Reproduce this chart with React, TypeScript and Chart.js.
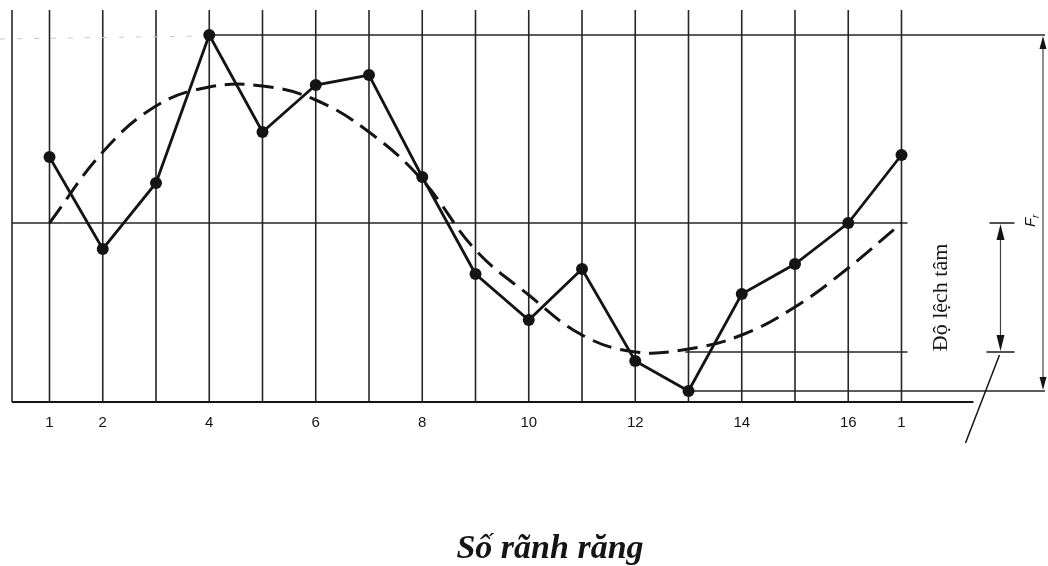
import React, { useEffect, useRef } from "react";
import { Chart, registerables } from "chart.js";

Chart.register(...registerables);

// ---- data ----
const toothNumbers = [1, 2, 3, 4, 5, 6, 7, 8, 9, 10, 11, 12, 13, 14, 15, 16, 17];
const tickLabels = ["1", "2", "", "4", "", "6", "", "8", "", "10", "", "12", "", "14", "", "16", "1"];
const measuredRunout = [6.6, -2.6, 4.0, 18.8, 9.1, 13.8, 14.8, 4.6, -5.1, -9.7, -4.6, -13.8, -16.8, -7.1, -4.1, 0.0, 6.8];
const eccentricityCurve = [0.0, 7.1, 11.7, 13.6, 13.7, 12.3, 9.1, 4.3, -2.7, -7.2, -11.2, -12.9, -12.6, -11.2, -8.4, -4.5, 0.0];
const titleText = "Số rãnh răng";
const eccentricityLabel = "Độ lệch tâm";
const runoutSymbol = "F";
const runoutSubscript = "r";

const INK = "#141414";
const GRID = "#262626";

function line(ctx: CanvasRenderingContext2D, x1: number, y1: number, x2: number, y2: number) {
  ctx.beginPath();
  ctx.moveTo(x1, y1);
  ctx.lineTo(x2, y2);
  ctx.stroke();
}

function arrowHead(ctx: CanvasRenderingContext2D, x: number, tipY: number, dir: number, len: number, half: number) {
  // dir = -1 points up, +1 points down
  ctx.beginPath();
  ctx.moveTo(x, tipY);
  ctx.lineTo(x - half, tipY - dir * len);
  ctx.lineTo(x + half, tipY - dir * len);
  ctx.closePath();
  ctx.fill();
}

const sketchPlugin = {
  id: "sketch",
  beforeDatasetsDraw(chart: any) {
    const { ctx, chartArea: a, scales } = chart;
    const xs = scales.x;
    const ys = scales.y;
    const X = (v: number) => xs.getPixelForValue(v);
    const Y = (v: number) => ys.getPixelForValue(v);
    const last = toothNumbers[toothNumbers.length - 1];
    const maxR = Math.max(...measuredRunout);
    const minR = Math.min(...measuredRunout);
    const minC = Math.min(...eccentricityCurve);
    const iMax = measuredRunout.indexOf(maxR);
    const iMin = measuredRunout.indexOf(minR);
    const iMinC = eccentricityCurve.indexOf(minC);

    ctx.save();
    ctx.strokeStyle = GRID;
    ctx.fillStyle = INK;
    ctx.lineWidth = 1.6;

    // vertical lines: left border + each tooth
    [xs.min, ...toothNumbers].forEach((v) => line(ctx, X(v), a.top, X(v), a.bottom));

    // faint scan guide at top-left
    ctx.save();
    ctx.strokeStyle = "#c8c8c8";
    ctx.lineWidth = 1;
    ctx.setLineDash([5, 12]);
    line(ctx, 0, Y(maxR) + 4, X(toothNumbers[iMax]) - 8, Y(maxR) + 1);
    ctx.restore();

    // zero line
    line(ctx, a.left, Y(0), X(last) + 6, Y(0));
    line(ctx, X(last) + 88, Y(0), X(last) + 113, Y(0));
    // max runout line
    line(ctx, X(toothNumbers[iMax]), Y(maxR), a.right, Y(maxR));
    // min runout line
    line(ctx, X(toothNumbers[iMin]), Y(minR), a.right, Y(minR));
    // curve minimum line
    line(ctx, X(toothNumbers[iMinC]) + 50, Y(minC), X(last) + 6, Y(minC));
    line(ctx, X(last) + 85, Y(minC), X(last) + 113, Y(minC));

    // baseline
    ctx.lineWidth = 2.2;
    ctx.strokeStyle = INK;
    line(ctx, a.left, a.bottom, X(last) + 72, a.bottom);

    // F_r dimension
    const fx = a.right - 2;
    ctx.lineWidth = 1.2;
    ctx.strokeStyle = "#444";
    line(ctx, fx, Y(maxR) + 10, fx, Y(minR) - 10);
    arrowHead(ctx, fx, Y(maxR) + 1, -1, 13, 3.5);
    arrowHead(ctx, fx, Y(minR) - 1, 1, 13, 3.5);

    // eccentricity dimension
    const ex = X(last) + 99;
    ctx.lineWidth = 1.2;
    line(ctx, ex, Y(0) + 10, ex, Y(minC) - 10);
    arrowHead(ctx, ex, Y(0) + 1, -1, 16, 4);
    arrowHead(ctx, ex, Y(minC) - 1, 1, 16, 4);

    // leader line
    ctx.lineWidth = 1.5;
    ctx.strokeStyle = INK;
    line(ctx, ex - 1, Y(minC) + 3, ex - 35, a.bottom + 41);

    ctx.restore();
  },
  afterDraw(chart: any) {
    const { ctx, chartArea: a, scales } = chart;
    const xs = scales.x;
    const ys = scales.y;
    const X = (v: number) => xs.getPixelForValue(v);
    const Y = (v: number) => ys.getPixelForValue(v);
    const last = toothNumbers[toothNumbers.length - 1];
    const minC = Math.min(...eccentricityCurve);

    ctx.save();
    ctx.fillStyle = INK;
    // tick labels
    ctx.font = "15px 'Liberation Sans', 'DejaVu Sans', sans-serif";
    ctx.textAlign = "center";
    ctx.textBaseline = "middle";
    toothNumbers.forEach((v, i) => {
      if (tickLabels[i]) ctx.fillText(tickLabels[i], X(v), a.bottom + 21);
    });

    // eccentricity label (rotated)
    ctx.save();
    ctx.translate(X(last) + 40, (Y(0) + Y(minC)) / 2 + 10);
    ctx.rotate(-Math.PI / 2);
    ctx.font = "22px 'Liberation Serif', 'DejaVu Serif', serif";
    ctx.textAlign = "center";
    ctx.textBaseline = "middle";
    ctx.fillText(eccentricityLabel, 0, 0);
    ctx.restore();

    // F_r symbol (rotated)
    ctx.save();
    ctx.translate(a.right - 15, Y(0) - 2);
    ctx.rotate(-Math.PI / 2);
    ctx.font = "italic 15px 'Liberation Sans', 'DejaVu Sans', sans-serif";
    ctx.textAlign = "left";
    ctx.textBaseline = "alphabetic";
    ctx.fillText(runoutSymbol, -6, 5);
    ctx.font = "italic 10px 'Liberation Sans', 'DejaVu Sans', sans-serif";
    ctx.fillText(runoutSubscript, 3, 9);
    ctx.restore();

    // title
    ctx.font = "bold italic 34px 'Liberation Serif', 'DejaVu Serif', serif";
    ctx.textAlign = "center";
    ctx.textBaseline = "middle";
    ctx.fillText(titleText, 550, 549);
    ctx.restore();
  },
};

export default function App() {
  const ref = useRef<HTMLCanvasElement>(null);
  useEffect(() => {
    const canvas = ref.current;
    if (!canvas) return;
    const chart = new Chart(canvas, {
      type: "line",
      data: {
        datasets: [
          {
            data: toothNumbers.map((x, i) => ({ x, y: measuredRunout[i] })),
            borderColor: INK,
            borderWidth: 2.8,
            pointRadius: 6,
            pointBackgroundColor: INK,
            pointBorderWidth: 0,
            tension: 0,
            clip: 10,
          },
          {
            data: toothNumbers.map((x, i) => ({ x, y: eccentricityCurve[i] })),
            borderColor: INK,
            borderWidth: 3,
            borderDash: [20, 9],
            pointRadius: 0,
            tension: 0.4,
            clip: 10,
          },
        ],
      },
      options: {
        animation: false,
        responsive: false,
        devicePixelRatio: 1,
        layout: { autoPadding: false, padding: { left: 12, right: 3, top: 10, bottom: 164 } },
        scales: {
          x: { type: "linear", display: false, min: 0.2958, max: 19.695 },
          y: { type: "linear", display: false, min: -17.9, max: 21.3 },
        },
        plugins: {
          legend: { display: false },
          tooltip: { enabled: false },
          title: { display: false },
        },
      },
      plugins: [sketchPlugin],
    });
    return () => chart.destroy();
  }, []);
  return (
    <div style={{ position: "absolute", left: 0, top: 0, width: 1048, height: 566, background: "#fff" }}>
      <canvas ref={ref} width={1048} height={566} />
    </div>
  );
}
